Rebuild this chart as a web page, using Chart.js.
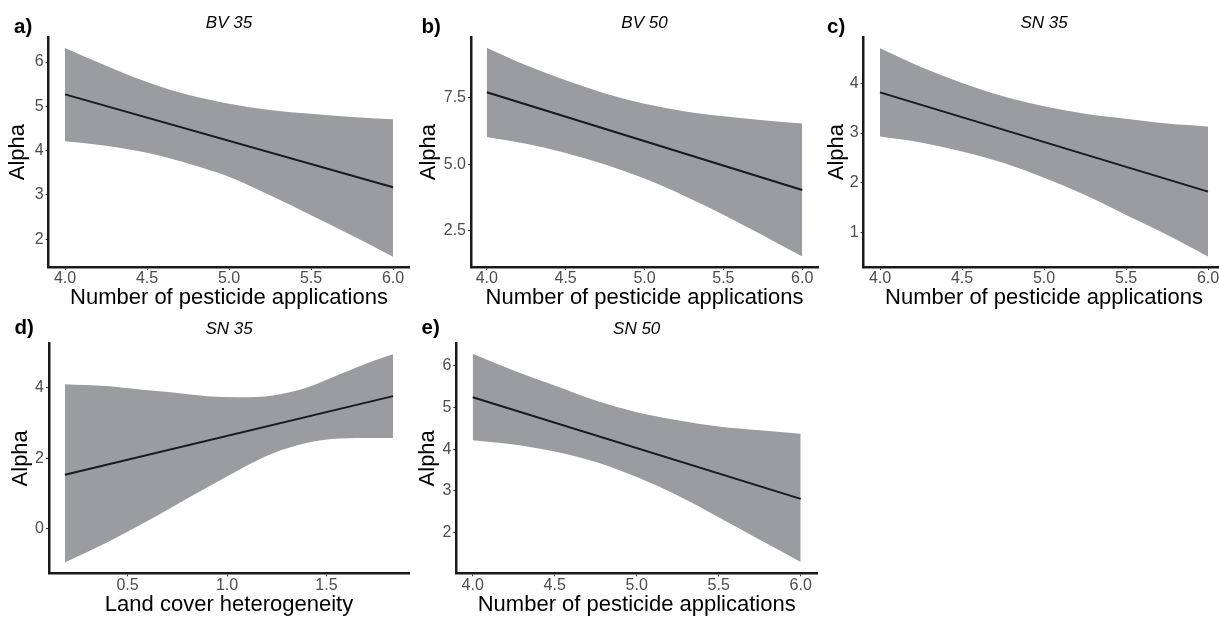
<!DOCTYPE html>
<html>
<head>
<meta charset="utf-8">
<title>Alpha vs pesticide applications</title>
<script src="https://cdn.jsdelivr.net/npm/chart.js@4.4.1/dist/chart.umd.min.js"></script>
<style>
  html, body { margin: 0; padding: 0; background: #fff; overflow: hidden; width: 1219px; height: 617px; }
  canvas { position: absolute; }
</style>
</head>
<body>
<canvas id="chart-a" width="412" height="312" style="left:0px;top:0px"></canvas>
<canvas id="chart-b" width="415" height="312" style="left:405px;top:0px"></canvas>
<canvas id="chart-c" width="420" height="312" style="left:810px;top:0px"></canvas>
<canvas id="chart-d" width="412" height="312" style="left:0px;top:305px"></canvas>
<canvas id="chart-e" width="415" height="312" style="left:405px;top:305px"></canvas>
<script>
  "use strict";

  /* ── Data ──────────────────────────────────── */

  var pestTicks = [4.0, 4.5, 5.0, 5.5, 6.0];
  var landTicks = [0.5, 1.0, 1.5];

  // a) BV 35
  var aBandX = [4.0, 4.25, 4.5, 4.75, 5.0, 5.25, 5.5, 5.75, 6.0];
  var aUpper = [6.32, 5.92, 5.55, 5.26, 5.06, 4.92, 4.83, 4.76, 4.71];
  var aLower = [4.21, 4.11, 3.95, 3.71, 3.41, 2.99, 2.54, 2.08, 1.60];
  var aLineX = [4.0, 6.0];
  var aLineY = [5.27, 3.17];
  var aTicks = [2, 3, 4, 5, 6];

  // b) BV 50
  var bBandX = [4.0, 4.25, 4.5, 4.75, 5.0, 5.25, 5.5, 5.75, 6.0];
  var bUpper = [9.36, 8.70, 8.14, 7.65, 7.26, 6.98, 6.79, 6.64, 6.52];
  var bLower = [6.02, 5.76, 5.42, 4.99, 4.46, 3.82, 3.11, 2.34, 1.54];
  var bLineX = [4.0, 6.0];
  var bLineY = [7.69, 4.03];
  var bTicks = [2.5, 5.0, 7.5];

  // c) SN 35
  var cBandX = [4.0, 4.25, 4.5, 4.75, 5.0, 5.25, 5.5, 5.75, 6.0];
  var cUpper = [4.71, 4.33, 4.01, 3.74, 3.54, 3.39, 3.29, 3.19, 3.13];
  var cLower = [2.93, 2.81, 2.63, 2.40, 2.10, 1.75, 1.35, 0.95, 0.51];
  var cLineX = [4.0, 6.0];
  var cLineY = [3.82, 1.82];
  var cTicks = [1, 2, 3, 4];

  // d) SN 35 (land cover)
  var dBandX = [0.185, 0.394, 0.562, 0.73, 0.897, 1.064, 1.232, 1.399, 1.567, 1.734, 1.835];
  var dUpper = [4.10, 4.05, 3.95, 3.86, 3.76, 3.73, 3.78, 4.00, 4.38, 4.76, 4.95];
  var dLower = [-0.96, -0.40, 0.10, 0.63, 1.16, 1.68, 2.14, 2.43, 2.56, 2.57, 2.57];
  var dLineX = [0.185, 1.835];
  var dLineY = [1.53, 3.76];
  var dTicks = [0, 2, 4];

  // e) SN 50
  var eBandX = [4.0, 4.25, 4.5, 4.75, 5.0, 5.25, 5.5, 5.75, 6.0];
  var eUpper = [6.28, 5.88, 5.52, 5.16, 4.88, 4.69, 4.54, 4.45, 4.37];
  var eLower = [4.21, 4.11, 3.94, 3.69, 3.33, 2.89, 2.37, 1.83, 1.30];
  var eLineX = [4.0, 6.0];
  var eLineY = [5.24, 2.81];
  var eTicks = [2, 3, 4, 5, 6];

  /* ── Styling ───────────────────────────────── */

  var FONT = "'Liberation Sans', Arial, Helvetica, sans-serif";
  var BAND = "#9b9ca0";
  var INK = "#1a1a1a";
  var TICK_TXT = "#4d4d4d";

  function pts(xs, ys) {
    return xs.map(function (x, i) { return { x: x, y: ys[i] }; });
  }

  // panel label ("a)") and italic facet title
  var panelText = {
    id: "panelText",
    afterDraw: function (chart, args, opts) {
      var ctx = chart.ctx, area = chart.chartArea;
      ctx.save();
      ctx.fillStyle = "#000";
      ctx.textBaseline = "alphabetic";
      ctx.textAlign = "left";
      ctx.font = "bold 20.5px " + FONT;
      ctx.fillText(opts.label, opts.labelX, opts.labelY);
      ctx.textAlign = "center";
      ctx.font = "italic 17px " + FONT;
      ctx.fillText(opts.title, (area.left + area.right) / 2, area.top - 9.2);
      ctx.restore();
    }
  };

  function makePanel(cfg) {
    var canvas = document.getElementById(cfg.id);
    var W = canvas.width, H = canvas.height;

    new Chart(canvas, {
      type: "line",
      data: {
        datasets: [
          {
            data: pts(cfg.lineX, cfg.lineY),
            borderColor: INK,
            borderWidth: 2,
            pointRadius: 0,
            fill: false,
            tension: 0
          },
          {
            data: pts(cfg.bandX, cfg.upper),
            borderWidth: 0,
            borderColor: "rgba(0,0,0,0)",
            backgroundColor: BAND,
            pointRadius: 0,
            fill: "+1",
            cubicInterpolationMode: "monotone"
          },
          {
            data: pts(cfg.bandX, cfg.lower),
            borderWidth: 0,
            borderColor: "rgba(0,0,0,0)",
            pointRadius: 0,
            fill: false,
            cubicInterpolationMode: "monotone"
          }
        ]
      },
      options: {
        responsive: false,
        animation: false,
        events: [],
        layout: {
          padding: { left: 0, bottom: 0, top: cfg.top, right: W - cfg.right }
        },
        scales: {
          x: {
            type: "linear",
            min: cfg.xMin,
            max: cfg.xMax,
            afterBuildTicks: function (s) { s.ticks = cfg.xTicks.map(function (v) { return { value: v }; }); },
            afterFit: function (s) { s.height = H - cfg.bottom; },
            grid: { display: true, drawOnChartArea: false, drawTicks: true, tickLength: 3, tickColor: "#333", tickWidth: 1 },
            border: { display: true, color: INK, width: 2.5 },
            ticks: {
              color: TICK_TXT, padding: 1, maxRotation: 0, autoSkip: false,
              font: { family: FONT, size: 16, lineHeight: 1 },
              callback: function (v) { return v.toFixed(1); }
            },
            title: {
              display: true, text: cfg.xTitle, color: "#000",
              font: { family: FONT, size: 22, lineHeight: 1 },
              padding: { top: 0, bottom: cfg.xTitlePad }
            }
          },
          y: {
            type: "linear",
            min: cfg.yMin,
            max: cfg.yMax,
            afterBuildTicks: function (s) { s.ticks = cfg.yTicks.map(function (v) { return { value: v }; }); },
            afterFit: function (s) { s.width = cfg.left; },
            grid: { display: true, drawOnChartArea: false, drawTicks: true, tickLength: 3, tickColor: "#333", tickWidth: 1 },
            border: { display: true, color: INK, width: 2.5 },
            ticks: {
              color: TICK_TXT, padding: 2, autoSkip: false,
              font: { family: FONT, size: 16, lineHeight: 1 },
              callback: function (v) { return cfg.yDec ? v.toFixed(1) : String(v); }
            },
            title: {
              display: true, text: "Alpha", color: "#000",
              font: { family: FONT, size: 22, lineHeight: 1 },
              padding: { top: cfg.yTitlePad, bottom: 0 }
            }
          }
        },
        plugins: {
          legend: { display: false },
          tooltip: { enabled: false },
          filler: { propagate: false },
          panelText: { label: cfg.label, title: cfg.title, labelX: cfg.labelX, labelY: cfg.labelY }
        }
      },
      plugins: [panelText]
    });
  }

  /* ── Init ─────────────────────────────────── */

  var PEST = "Number of pesticide applications";

  makePanel({ id: "chart-a", label: "a)", title: "BV 35", labelX: 14, labelY: 33,
    bandX: aBandX, upper: aUpper, lower: aLower, lineX: aLineX, lineY: aLineY,
    xTicks: pestTicks, yTicks: aTicks, xMin: 3.9, xMax: 6.1, yMin: 1.37, yMax: 6.56,
    xTitle: PEST, left: 48.6, right: 409.4, top: 37.3, bottom: 267, yTitlePad: 7.4, xTitlePad: 2.7 });

  makePanel({ id: "chart-b", label: "b)", title: "BV 50", labelX: 16.5, labelY: 33,
    bandX: bBandX, upper: bUpper, lower: bLower, lineX: bLineX, lineY: bLineY, yDec: true,
    xTicks: pestTicks, yTicks: bTicks, xMin: 3.9, xMax: 6.1, yMin: 1.15, yMax: 9.75,
    xTitle: PEST, left: 66, right: 413, top: 37.3, bottom: 267, yTitlePad: 12.5, xTitlePad: 2.7 });

  makePanel({ id: "chart-c", label: "c)", title: "SN 35", labelX: 17, labelY: 33,
    bandX: cBandX, upper: cUpper, lower: cLower, lineX: cLineX, lineY: cLineY,
    xTicks: pestTicks, yTicks: cTicks, xMin: 3.9, xMax: 6.1, yMin: 0.30, yMax: 4.93,
    xTitle: PEST, left: 53.6, right: 414.4, top: 37.3, bottom: 267, yTitlePad: 15.8, xTitlePad: 2.7 });

  makePanel({ id: "chart-d", label: "d)", title: "SN 35", labelX: 14.5, labelY: 28.5,
    bandX: dBandX, upper: dUpper, lower: dLower, lineX: dLineX, lineY: dLineY,
    xTicks: landTicks, yTicks: dTicks, xMin: 0.105, xMax: 1.915, yMin: -1.27, yMax: 5.26,
    xTitle: "Land cover heterogeneity", left: 49, right: 409, top: 38.3, bottom: 268.3, yTitlePad: 10.1, xTitlePad: 1 });

  makePanel({ id: "chart-e", label: "e)", title: "SN 50", labelX: 16.5, labelY: 28.5,
    bandX: eBandX, upper: eUpper, lower: eLower, lineX: eLineX, lineY: eLineY,
    xTicks: pestTicks, yTicks: eTicks, xMin: 3.9, xMax: 6.1, yMin: 1.03, yMax: 6.53,
    xTitle: PEST, left: 51.3, right: 412.1, top: 38.3, bottom: 268.3, yTitlePad: 12.4, xTitlePad: 1 });
</script>
</body>
</html>
